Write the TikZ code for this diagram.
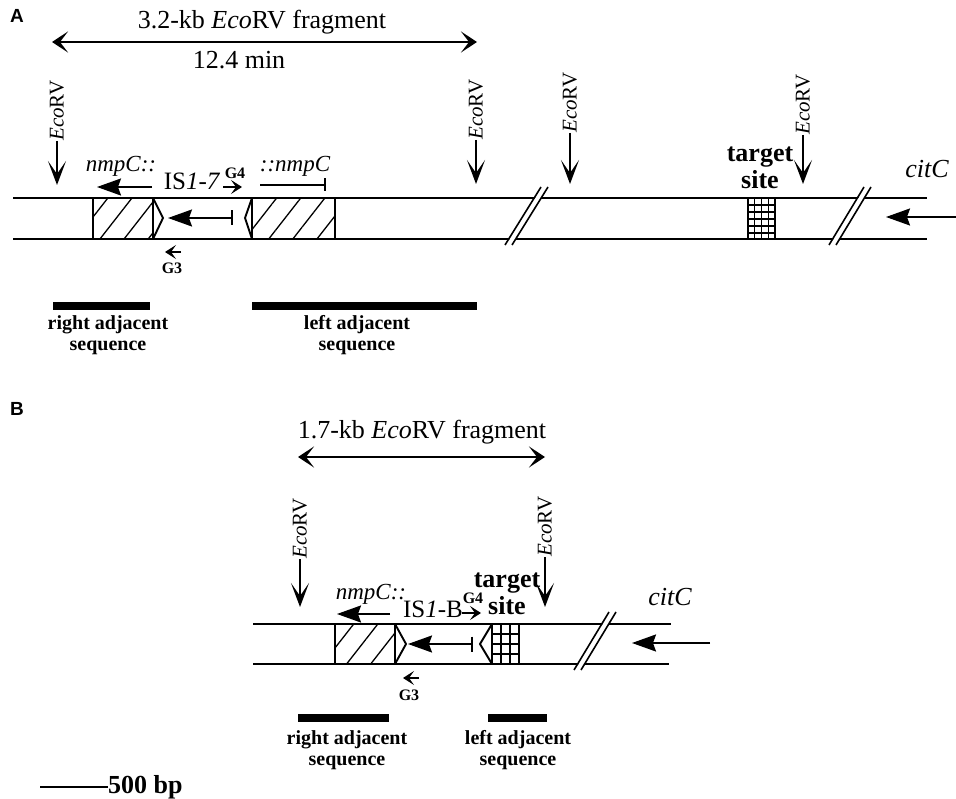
\documentclass[tikz,border=0pt]{standalone}
\usepackage{fontspec}
\setmainfont{Liberation Serif}
\newfontfamily\panelfont{Liberation Sans}
\usetikzlibrary{arrows.meta,patterns.meta}
\newcommand\fhead{\fontsize{26}{28}\selectfont}
\begin{document}
\begin{tikzpicture}[x=1pt,y=-1pt,
  chrom/.style={line width=1.9pt},
  boxline/.style={line width=1.9pt},
  hatchfill/.style={pattern={Lines[angle=52,distance=19pt,line width=1.3pt]}},
  gridl/.style={line width=1.2pt},
  slash/.style={line width=1.6pt},
  headtxt/.style={font=\fhead, inner sep=0pt},
  ecolab/.style={rotate=90, anchor=west, inner sep=0pt, font=\fontsize{21}{22}\selectfont},
  ecoarrow/.style={line width=1.8pt, -{Stealth[length=24pt,width=18pt,inset=13pt]}},
  dbl/.style={line width=1.8pt, {Stealth[length=16pt,width=21pt,inset=8pt]}-{Stealth[length=16pt,width=21pt,inset=8pt]}},
  bigarrow/.style={line width=1.8pt, -{Stealth[length=24pt,width=17pt,inset=3pt]}},
  bararrow/.style={line width=1.8pt, {Bar[width=15pt,line width=1.8pt]}-{Stealth[length=24pt,width=17pt,inset=3pt]}},
  barend/.style={line width=1.8pt, -{Bar[width=13pt,line width=1.8pt]}},
  primer/.style={line width=1.6pt, -{Stealth[length=11pt,width=14pt,inset=5pt]}},
  gtxt/.style={font=\fontsize{16}{17}\selectfont\bfseries, inner sep=0pt},
  gene/.style={font=\fontsize{23}{24}\selectfont\itshape, inner sep=0pt},
  istxt/.style={font=\fontsize{25}{26}\selectfont, inner sep=0pt},
  targettxt/.style={font=\fontsize{26}{27}\selectfont\bfseries, align=center, inner sep=0pt},
  adjtxt/.style={font=\fontsize{20}{21}\selectfont\bfseries, align=center, inner sep=0pt},
  panellab/.style={font=\panelfont\fontsize{19}{20}\selectfont\bfseries, inner sep=0pt},
  seqbar/.style={fill=black}
]
\useasboundingbox (0,0) rectangle (956,799);

% ================= Panel A =================
\node[panellab] (labA) at (17,16) {A};
\node[headtxt] (fragA) at (262,22) {3.2-kb \textit{Eco}RV fragment};
\coordinate (fa1) at (52,42);
\coordinate (fa2) at (477,42);
\draw[dbl] (fa1) -- (fa2);
\node[headtxt] (minA) at (239,60) {12.4 min};

% EcoRV sites
\node[ecolab] (eA1) at (57,141) {\textit{Eco}RV};
\coordinate (eA1t) at (57,185);
\draw[ecoarrow] (eA1.west) -- (eA1t);
\node[ecolab] (eA2) at (476,140) {\textit{Eco}RV};
\coordinate (eA2t) at (476,184);
\draw[ecoarrow] (eA2.west) -- (eA2t);
\node[ecolab] (eA3) at (570,133) {\textit{Eco}RV};
\coordinate (eA3t) at (570,184);
\draw[ecoarrow] (eA3.west) -- (eA3t);
\node[ecolab] (eA4) at (803,135) {\textit{Eco}RV};
\coordinate (eA4t) at (803,184);
\draw[ecoarrow] (eA4.west) -- (eA4t);

% hatched boxes and target
\path[hatchfill] (93,198) rectangle (153,239);
\path[hatchfill] (252,198) rectangle (335,239);
\foreach \gx in {748,754.75,761.5,768.25,775} \draw[gridl] (\gx,198) -- (\gx,239);
\foreach \gy in {205,212,219,226,233} \draw[gridl] (748,\gy) -- (775,\gy);

% chromosome lines
\draw[chrom] (13,198) -- (927,198);
\draw[chrom] (13,239) -- (927,239);
\fill[white] (506,245) -- (542,187) -- (548,187) -- (512,245) -- cycle;
\fill[white] (830,245) -- (865,187) -- (871,187) -- (836,245) -- cycle;
\draw[slash] (505,245) -- (541,187);
\draw[slash] (512,245) -- (548,187);
\draw[slash] (829,245) -- (864,187);
\draw[slash] (836,245) -- (871,187);

\draw[boxline] (93,198) -- (93,239);
\draw[boxline] (153,198) -- (153,239);
\draw[boxline] (252,198) -- (252,239);
\draw[boxline] (335,198) -- (335,239);
\draw[boxline] (748,198) -- (748,239);
\draw[boxline] (775,198) -- (775,239);
\draw[boxline] (153,198) -- (163,218) -- (153,239);
\draw[boxline] (252,198) -- (245,218) -- (252,239);

% IS1-7 internal arrow
\coordinate (isA1) at (233,218);
\coordinate (isA2) at (168,218);
\draw[bararrow] (isA1) -- (isA2);

% labels above IS
\node[gene] (nmpAL) at (121,166) {nmpC::};
\coordinate (nA1) at (152,187);
\coordinate (nA2) at (97,187);
\draw[bigarrow] (nA1) -- (nA2);
\node[istxt] (isA) at (192,181) {IS\textit{1-7}};
\node[gtxt] (g4A) at (235,173) {G4};
\coordinate (g4A1) at (223,187);
\coordinate (g4A2) at (242,187);
\draw[primer] (g4A1) -- (g4A2);
\node[gene] (nmpAR) at (295,166) {::nmpC};
\coordinate (nA3) at (260,185);
\coordinate (nA4) at (326,185);
\draw[barend] (nA3) -- (nA4);

% G3
\coordinate (g3A1) at (181,252);
\coordinate (g3A2) at (165,252);
\draw[primer] (g3A1) -- (g3A2);
\node[gtxt] (g3A) at (172,268) {G3};

% target site, citC
\node[targettxt] (tsA) at (760,168) {target\\site};
\node[font=\fontsize{26}{27}\selectfont\itshape, inner sep=0pt] (citA) at (927,169) {citC};
\coordinate (cA1) at (956,217);
\coordinate (cA2) at (886,217);
\draw[bigarrow] (cA1) -- (cA2);

% adjacent sequence bars
\fill[seqbar] (53,302) rectangle (150,310);
\node[adjtxt] (raA) at (108,335) {right adjacent\\sequence};
\fill[seqbar] (252,302) rectangle (477,310);
\node[adjtxt] (laA) at (357,335) {left adjacent\\sequence};

% ================= Panel B =================
\node[panellab] (labB) at (17,409) {B};
\node[headtxt] (fragB) at (422,432) {1.7-kb \textit{Eco}RV fragment};
\coordinate (fb1) at (298,457);
\coordinate (fb2) at (545,457);
\draw[dbl] (fb1) -- (fb2);

\node[ecolab] (eB1) at (300,559) {\textit{Eco}RV};
\coordinate (eB1t) at (300,607);
\draw[ecoarrow] (eB1.west) -- (eB1t);
\node[ecolab] (eB2) at (545,557) {\textit{Eco}RV};
\coordinate (eB2t) at (545,607);
\draw[ecoarrow] (eB2.west) -- (eB2t);

\path[hatchfill] (335,624) rectangle (395,664);
\foreach \gx in {492,501,510,519} \draw[gridl] (\gx,624) -- (\gx,664);
\foreach \gy in {634,644,654} \draw[gridl] (492,\gy) -- (519,\gy);

\draw[chrom] (253,624) -- (671,624);
\draw[chrom] (253,664) -- (669,664);
\fill[white] (575,670) -- (610,612) -- (616,612) -- (581,670) -- cycle;
\draw[slash] (574,670) -- (609,612);
\draw[slash] (581,670) -- (616,612);

\draw[boxline] (335,624) -- (335,664);
\draw[boxline] (395,624) -- (395,664);
\draw[boxline] (492,624) -- (492,664);
\draw[boxline] (519,624) -- (519,664);
\draw[boxline] (395,624) -- (406,644) -- (395,664);
\draw[boxline] (492,624) -- (480,644) -- (492,664);

\coordinate (isB1) at (473,644);
\coordinate (isB2) at (408,644);
\draw[bararrow] (isB1) -- (isB2);

\node[gene] (nmpB) at (371,594) {nmpC::};
\coordinate (nB1) at (390,614);
\coordinate (nB2) at (337,614);
\draw[bigarrow] (nB1) -- (nB2);
\node[istxt] (isB) at (433,609) {IS\textit{1}-B};
\node[gtxt] (g4B) at (473,598) {G4};
\coordinate (g4B1) at (462,613);
\coordinate (g4B2) at (481,613);
\draw[primer] (g4B1) -- (g4B2);

\coordinate (g3B1) at (419,678);
\coordinate (g3B2) at (403,678);
\draw[primer] (g3B1) -- (g3B2);
\node[gtxt] (g3B) at (409,695) {G3};

\node[targettxt] (tsB) at (507,594) {target\\site};
\node[font=\fontsize{26}{27}\selectfont\itshape, inner sep=0pt] (citB) at (670,597) {citC};
\coordinate (cB1) at (710,643);
\coordinate (cB2) at (632,643);
\draw[bigarrow] (cB1) -- (cB2);

\fill[seqbar] (298,714) rectangle (389,722);
\node[adjtxt] (raB) at (347,750) {right adjacent\\sequence};
\fill[seqbar] (488,714) rectangle (547,722);
\node[adjtxt] (laB) at (518,750) {left adjacent\\sequence};

% scale bar
\coordinate (sb1) at (40,787);
\node[font=\fontsize{26}{27}\selectfont\bfseries, inner sep=0pt, anchor=west] (sbt) at (108,787) {500 bp};
\draw[line width=1.6pt] (sb1) -- (sbt.west);
\end{tikzpicture}
\end{document}
